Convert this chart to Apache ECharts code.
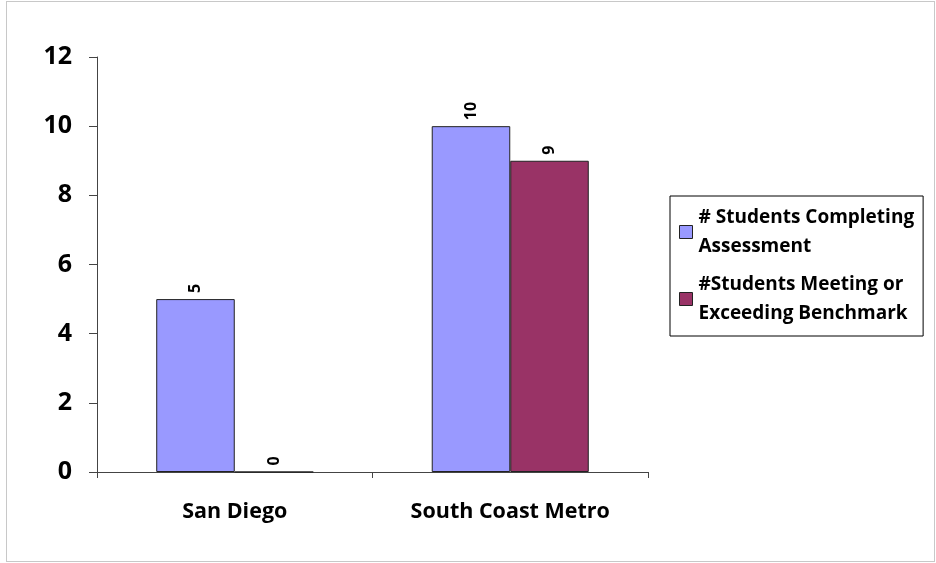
<!DOCTYPE html>
<html><head><meta charset="utf-8">
<script src="https://cdn.jsdelivr.net/npm/echarts@6/dist/echarts.min.js"></script>
<style>html,body{margin:0;padding:0;background:#fff}#c{width:936px;height:563px;position:relative}
#frame{position:absolute;left:6px;top:1px;width:927px;height:559px;border:1px solid #c8c8c8;pointer-events:none}</style>
</head><body><div id="c"></div><div id="frame"></div>
<script>
const categories = ['San Diego', 'South Coast Metro'];
const seriesNames = ['# Students Completing\nAssessment', '#Students Meeting or\nExceeding Benchmark'];
const completing = [5, 10];
const meeting = [0, 9];
const yTicks = [0, 2, 4, 6, 8, 10, 12];

const chart = echarts.init(document.getElementById('c'));
const font = '"Open Sans", Lato, sans-serif';
const lbl = {show: true, position: 'top', rotate: 90, align: 'left', verticalAlign: 'middle', distance: 6,
  fontFamily: font, fontWeight: 'bold', fontSize: 16, color: '#000'};
chart.setOption({
  animation: false,
  grid: {left: 97, right: 288, top: 57, bottom: 91},
  legend: {
    orient: 'vertical', left: 670, top: 196,
    padding: [7, 9, 8, 9], itemGap: 9,
    borderColor: '#000', borderWidth: 1,
    icon: 'rect', itemWidth: 13, itemHeight: 13,
    itemStyle: {borderColor: '#222', borderWidth: 1},
    textStyle: {fontFamily: font, fontWeight: 'bold', fontSize: 19, color: '#000', lineHeight: 29, padding: [0, 0, 0, 1]},
    data: seriesNames
  },
  xAxis: {
    type: 'category', data: categories,
    axisLine: {lineStyle: {color: '#444', width: 1}},
    axisTick: {show: true, length: 6, lineStyle: {color: '#444'}},
    axisLabel: {margin: 29, fontFamily: font, fontWeight: 'bold', fontSize: 21.5, color: '#000'}
  },
  yAxis: {
    type: 'value', min: yTicks[0], max: yTicks[yTicks.length - 1], interval: 2,
    axisLine: {show: true, lineStyle: {color: '#444', width: 1}},
    axisTick: {show: true, length: 8, lineStyle: {color: '#444'}},
    splitLine: {show: false},
    axisLabel: {margin: 25, fontFamily: font, fontWeight: 'bold', fontSize: 25, color: '#000'}
  },
  series: [
    {name: seriesNames[0], type: 'bar', data: completing, barGap: '0%', barCategoryGap: '43%',
     itemStyle: {color: '#9999FF', borderColor: '#222', borderWidth: 1}, label: lbl},
    {name: seriesNames[1], type: 'bar', data: meeting,
     itemStyle: {color: '#993366', borderColor: '#222', borderWidth: 1}, label: lbl}
  ]
});
</script></body></html>
